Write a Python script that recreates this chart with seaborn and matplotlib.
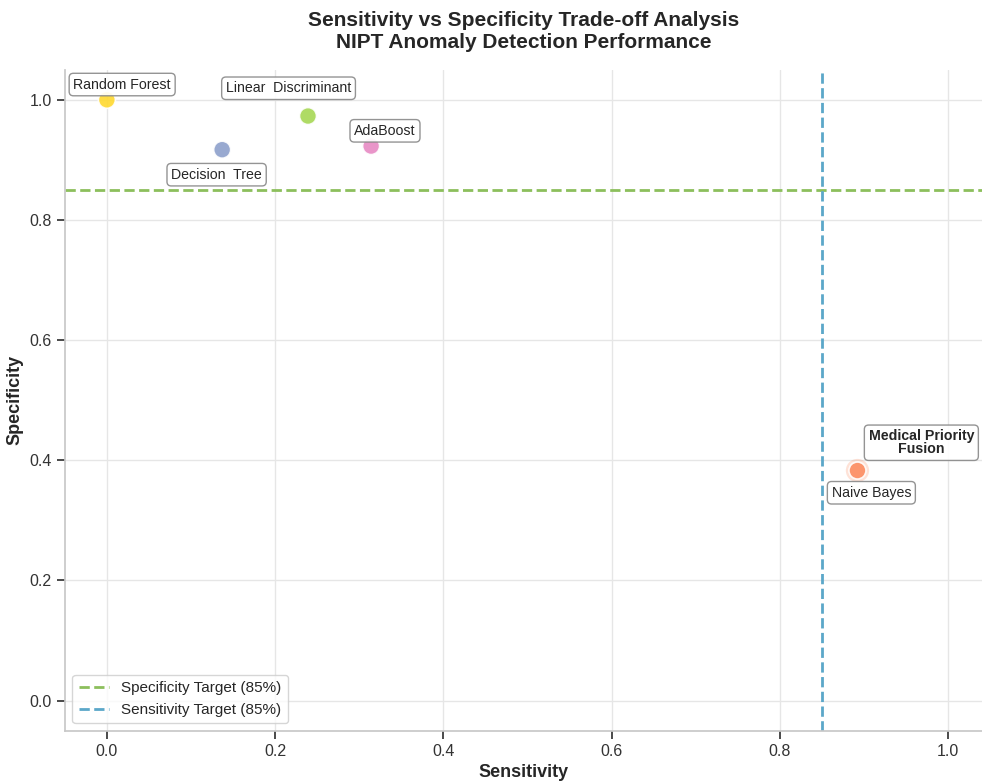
import numpy as np
import pandas as pd
import seaborn as sns
import matplotlib
matplotlib.use("Agg")
from matplotlib import pyplot as plt

models = ["Medical Priority Fusion", "Naive Bayes", "Decision  Tree", "AdaBoost",
          "Linear  Discriminant", "Random Forest"]
sensitivity = [0.892, 0.892, 0.137, 0.314, 0.239, 0.0]
specificity = [0.383, 0.383, 0.917, 0.923, 0.973, 1.0]
label_offsets = [(46, 20), (10, -16), (-4, -18), (10, 11), (-14, 20), (11, 11)]

sns.set_theme(style="ticks", rc={"axes.grid": True, "grid.color": "#e6e6e6",
                                 "axes.edgecolor": "#c8c8c8", "xtick.color": "#333333",
                                 "ytick.color": "#333333", "text.color": "#262626",
                                 "axes.labelcolor": "#262626"})
plt.rcParams["font.family"] = ["Liberation Sans", "DejaVu Sans"]

df = pd.DataFrame({"Model": models, "Sensitivity": sensitivity, "Specificity": specificity})
colors = sns.color_palette("Set2", 6)

fig, ax = plt.subplots(figsize=(9.82, 7.84), dpi=100)

spec_line = ax.axhline(0.85, color="#8cbf5c", linestyle="--", linewidth=2,
                       label="Specificity Target (85%)")
sens_line = ax.axvline(0.85, color="#5ba7c9", linestyle="--", linewidth=2,
                       label="Sensitivity Target (85%)")

# fusion halo, then the rest
fus = df.iloc[[0]]
ax.scatter(fus["Sensitivity"], fus["Specificity"], s=280, color="#fc8d62", alpha=0.25,
           edgecolor="none", zorder=3)
rest = df.iloc[1:]
sns.scatterplot(data=rest, x="Sensitivity", y="Specificity", hue="Model",
                palette=colors[1:], s=150, edgecolor="white", linewidth=1.2,
                alpha=0.9, ax=ax, legend=False, zorder=4)

for i, row in df.iterrows():
    dx, dy = label_offsets[i]
    bold = row["Model"] == "Medical Priority Fusion"
    txt = "Medical Priority\nFusion" if bold else row["Model"]
    ax.annotate(txt, (row["Sensitivity"], row["Specificity"]), xytext=(dx, dy),
                textcoords="offset points", ha="center", va="center",
                fontsize=10.2, fontweight="bold" if bold else "normal",
                linespacing=0.9,
                bbox=dict(boxstyle="round,pad=0.3", facecolor="white",
                          edgecolor="#888888", alpha=0.9), zorder=5)

ax.set_xlim(-0.05, 1.04)
ax.set_ylim(-0.05, 1.05)
ax.tick_params(labelsize=11.5)
ax.set_xlabel("Sensitivity", fontsize=13, fontweight="bold")
ax.set_ylabel("Specificity", fontsize=13, fontweight="bold")
ax.set_title("Sensitivity vs Specificity Trade-off Analysis\nNIPT Anomaly Detection Performance",
             fontsize=15, fontweight="bold", pad=16)
ax.legend(handles=[spec_line, sens_line], loc="lower left", fontsize=11, frameon=True)
sns.despine(ax=ax)

fig.subplots_adjust(left=0.066, right=1.0, top=0.911, bottom=0.068)
fig.savefig("out.png", dpi=100)
